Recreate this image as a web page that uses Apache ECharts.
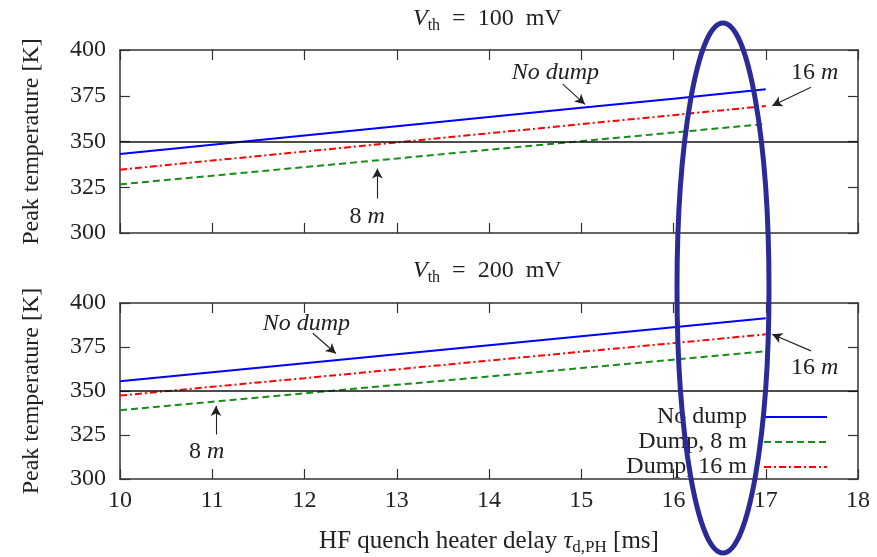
<!DOCTYPE html>
<html>
<head>
<meta charset="utf-8">
<script src="https://cdn.jsdelivr.net/npm/echarts@6/dist/echarts.min.js"></script>
<style>html,body{margin:0;padding:0;background:#fff}#c{width:877px;height:557px}</style>
</head>
<body>
<div id="c"></div>
<script>
// ---- data ----
const xValues = [10, 11, 12, 13, 14, 15, 16, 17];
const topNoDump   = [343.2, 348.2, 353.3, 358.3, 363.4, 368.4, 373.4, 378.5];
const topDump8    = [326.6, 331.3, 336.0, 340.7, 345.5, 350.2, 354.9, 359.6];
const topDump16   = [334.6, 339.6, 344.5, 349.5, 354.5, 359.5, 364.4, 369.4];
const botNoDump   = [355.6, 360.7, 365.8, 370.9, 376.0, 381.1, 386.2, 391.3];
const botDump8    = [339.1, 343.9, 348.7, 353.5, 358.2, 363.0, 367.8, 372.6];
const botDump16   = [347.4, 352.4, 357.3, 362.3, 367.3, 372.3, 377.2, 382.2];
const limitValue = 350;
const seriesNames = ['No dump', 'Dump, 8 m', 'Dump, 16 m'];
const panelTitles = ['100 mV', '200 mV'];

const FONT = 'Liberation Serif';
const pairs = (ys) => xValues.map((x, i) => [x, ys[i]]);

const grids = [
  {left: 120, right: 19, top: 50, height: 183},
  {left: 120, right: 19, top: 303, height: 184}
];
const axisLine = {show: true, lineStyle: {color: '#333', width: 1.5}};
const tickIn = {show: true, inside: true, length: 10, lineStyle: {color: '#333', width: 1.2}};
function xAx(gi, pos, labels) {
  return {type: 'value', gridIndex: gi, position: pos, min: 10, max: 18, interval: 1,
    axisLine, axisTick: tickIn, splitLine: {show: false},
    axisLabel: {show: labels, color: '#222', fontFamily: FONT, fontSize: 24, margin: 10}};
}
function yAx(gi, pos, labels) {
  return {type: 'value', gridIndex: gi, position: pos, min: 300, max: 400, interval: 25,
    axisLine, axisTick: tickIn, splitLine: {show: false},
    name: labels ? 'Peak temperature [K]' : '', nameLocation: 'middle', nameRotate: 90, nameGap: 76,
    nameTextStyle: {fontFamily: FONT, fontSize: 24, color: '#222'},
    axisLabel: {show: labels, color: '#222', fontFamily: FONT, fontSize: 24, margin: 14}};
}
const xAxes = [xAx(0, 'bottom', false), xAx(0, 'top', false), xAx(1, 'bottom', true), xAx(1, 'top', false)];
xAxes[2].name = '{n|HF quench heater delay }{t|τ}{s|d,PH}{n| [ms]}';
xAxes[2].nameLocation = 'middle';
xAxes[2].nameGap = 47;
xAxes[2].nameTextStyle = {color: '#222', rich: {
  n: {fontFamily: FONT, fontSize: 25, lineHeight: 30, verticalAlign: 'middle', color: '#222'},
  t: {fontFamily: FONT, fontSize: 25, fontStyle: 'italic', lineHeight: 30, verticalAlign: 'middle', color: '#222'},
  s: {fontFamily: FONT, fontSize: 17, lineHeight: 15, verticalAlign: 'bottom', color: '#222'}
}};
const yAxes = [yAx(0, 'left', true), yAx(0, 'right', false), yAx(1, 'left', true), yAx(1, 'right', false)];

const styles = [
  {color: '#0000ff', type: 'solid'},
  {color: '#1a8c1a', type: [7, 4]},
  {color: '#ff0000', type: [7, 3, 2, 3]}
];
const annText = {fontFamily: FONT, fontSize: 24, color: '#222'};
const annRich = {
  i: Object.assign({fontStyle: 'italic'}, annText),
  r: Object.assign({}, annText)
};
function arrowLine(a, b) { return [{coord: a}, {coord: b}]; }
function txt(coord, s) {
  return {coord, value: 0, label: {show: true, position: 'inside', formatter: s, rich: annRich}};
}
const annotations = [
  {
    arrows: [arrowLine([14.80, 381.4], [15.04, 370.3]), arrowLine([17.49, 379.6], [17.07, 369.6]), arrowLine([12.79, 318.8], [12.79, 335.2])],
    texts: [txt([14.72, 387.4], '{i|No dump}'), txt([17.53, 387.6], '{r|16 }{i|m}'), txt([12.68, 308.7], '{r|8 }{i|m}')]
  },
  {
    arrows: [arrowLine([12.09, 382.8], [12.34, 371.3]), arrowLine([11.04, 325.3], [11.04, 341.5]), arrowLine([17.49, 372.8], [17.07, 382.3])],
    texts: [txt([12.02, 388.2], '{i|No dump}'), txt([10.94, 315.4], '{r|8 }{i|m}'), txt([17.53, 363.4], '{r|16 }{i|m}')]
  }
];

const series = [];
[[topNoDump, topDump8, topDump16], [botNoDump, botDump8, botDump16]].forEach((set, p) => {
  set.forEach((vals, k) => {
    const s = {
      type: 'line', name: seriesNames[k], xAxisIndex: p * 2, yAxisIndex: p * 2,
      data: pairs(vals), symbol: 'none', showSymbol: false,
      lineStyle: {color: styles[k].color, type: styles[k].type, width: 2},
      itemStyle: {color: styles[k].color}, z: 3, animation: false
    };
    if (k === 0) {
      s.markLine = {silent: true, symbol: 'none', animation: false,
        label: {show: false}, lineStyle: {color: '#111', width: 1.6, type: 'solid'},
        data: [{yAxis: limitValue}]};
    }
    if (k === 1) {
      s.markLine = {silent: true, symbol: ['none', 'arrow'], symbolSize: [8, 10], animation: false,
        label: {show: false}, lineStyle: {color: '#222', width: 1.1, type: 'solid'},
        data: annotations[p].arrows};
    }
    if (k === 2) {
      s.markPoint = {silent: true, symbol: 'circle', symbolSize: 1, animation: false,
        itemStyle: {color: 'rgba(0,0,0,0)'}, data: annotations[p].texts};
    }
    series.push(s);
  });
});

const titleRich = {
  v: {fontFamily: FONT, fontSize: 24, fontStyle: 'italic', fontWeight: 'normal', lineHeight: 30, verticalAlign: 'middle', color: '#222'},
  s: {fontFamily: FONT, fontSize: 16, fontWeight: 'normal', lineHeight: 14, verticalAlign: 'bottom', color: '#222'},
  n: {fontFamily: FONT, fontSize: 24, fontWeight: 'normal', lineHeight: 30, verticalAlign: 'middle', color: '#222'}
};
const titles = panelTitles.map((t, i) => ({
  text: '{v|V}{s|th}{n|  =  ' + t.replace(' ', '  ') + '}', left: 413, top: i === 0 ? 4 : 256, padding: 0,
  textStyle: {fontWeight: 'normal', rich: titleRich}
}));

const legendTops = [405, 430, 455];
const legends = seriesNames.map((n, i) => ({
  data: [n], right: 49, top: legendTops[i], orient: 'vertical', align: 'right',
  itemWidth: 63, itemHeight: 20, padding: 0, selectedMode: false,
  itemStyle: {opacity: 0, color: 'rgba(0,0,0,0)', borderWidth: 0},
  formatter: (name) => name + '  ',
  textStyle: {fontFamily: FONT, fontSize: 24, color: '#222'}
}));

const chart = echarts.init(document.getElementById('c'), null, {renderer: 'canvas'});
chart.setOption({
  animation: false,
  backgroundColor: '#fff',
  title: titles,
  legend: legends,
  grid: grids,
  xAxis: xAxes,
  yAxis: yAxes,
  series,
  graphic: [{
    type: 'ellipse', z: 100, silent: true,
    shape: {cx: 723, cy: 288, rx: 46, ry: 265},
    style: {fill: 'none', stroke: '#2a2a98', lineWidth: 5}
  }]
});
</script>
</body>
</html>
